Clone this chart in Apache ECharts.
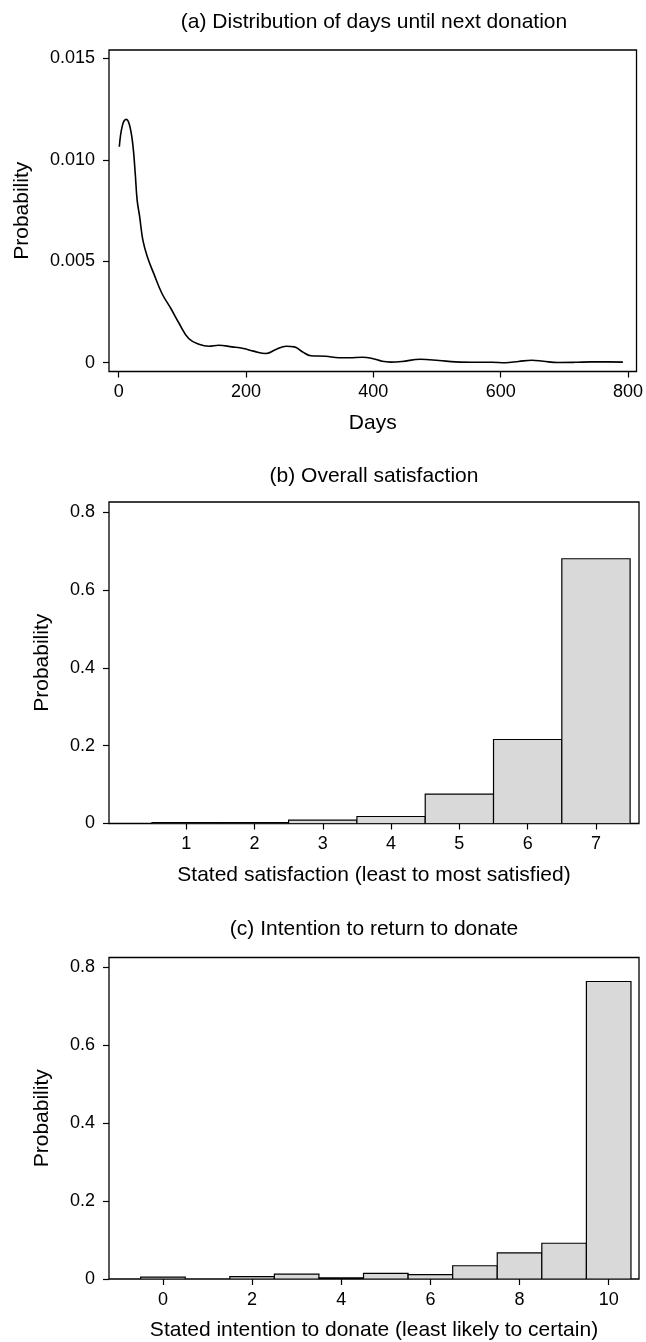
<!DOCTYPE html>
<html>
<head>
<meta charset="utf-8">
<script src="https://cdn.jsdelivr.net/npm/echarts@6/dist/echarts.min.js"></script>
<style>
html,body{margin:0;padding:0;background:#fff;}
#chart{width:646px;height:1342px;}
</style>
</head>
<body>
<div id="chart"></div>
<script>
// ---- Panel (a): kernel density of days until next donation ----
const daysX = [1, 6, 12, 17, 22, 26, 29, 33, 38, 45, 55, 68, 82, 95, 110, 126, 142, 157, 178, 196,
  212, 231, 247, 263, 276, 289, 302, 325, 346, 362, 383, 398, 414, 427, 445, 474, 503, 529, 565, 586,
  607, 628, 649, 667, 690, 717, 743, 769, 792];
const densityY = [0.01064, 0.01171, 0.01199, 0.01171, 0.01081, 0.00933, 0.00801, 0.00719, 0.00604, 0.00522,
  0.00440, 0.00341, 0.00267, 0.00193, 0.00119, 0.00091, 0.00081, 0.00086, 0.00078, 0.00070,
  0.00057, 0.00045, 0.00065, 0.00081, 0.00078, 0.00053, 0.00034, 0.00032, 0.00024, 0.00024,
  0.00027, 0.00021, 0.00007, 0.00003, 0.00006, 0.00017, 0.00011, 0.00004, 0.00002, 0.00002,
  0.00000, 0.00006, 0.00012, 0.00007, 0.00001, 0.00002, 0.00004, 0.00004, 0.00003];
const daysTicks = [0, 200, 400, 600, 800];
const densityTicks = [0, 0.005, 0.010, 0.015];

// ---- Panel (b): overall satisfaction ----
const satCategories = [1, 2, 3, 4, 5, 6, 7];
const satProb = [0.002, 0.002, 0.0085, 0.018, 0.0756, 0.2157, 0.680];
const satTicks = [1, 2, 3, 4, 5, 6, 7];

// ---- Panel (c): intention to return to donate ----
const intCategories = [0, 1, 2, 3, 4, 5, 6, 7, 8, 9, 10];
const intProb = [0.005, 0, 0.006, 0.0126, 0.003, 0.0144, 0.011, 0.034, 0.067, 0.0918, 0.764];
const intTicks = [0, 2, 4, 6, 8, 10];

const probTicks = [0, 0.2, 0.4, 0.6, 0.8];

const titles = ['(a) Distribution of days until next donation', '(b) Overall satisfaction', '(c) Intention to return to donate'];
const xNames = ['Days', 'Stated satisfaction (least to most satisfied)', 'Stated intention to donate (least likely to certain)'];
const yName = 'Probability';

const FONT = '"Liberation Sans", Arial, Helvetica, sans-serif';
const chart = echarts.init(document.getElementById('chart'), null, {renderer: 'canvas'});

function xAxisCfg(idx, min, max, ticks, fmt) {
  return {
    gridIndex: idx, type: 'value', min: min, max: max,
    axisLine: {show: false, onZero: false},
    axisTick: {show: true, length: 6, customValues: ticks, lineStyle: {color: '#000', width: 1.2}},
    axisLabel: {customValues: ticks, color: '#000', fontSize: 18, fontFamily: FONT, margin: 12, formatter: fmt},
    splitLine: {show: false},
    name: xNames[idx], nameLocation: 'middle', nameGap: 41,
    nameTextStyle: {color: '#000', fontSize: 21, fontFamily: FONT}
  };
}
function yAxisCfg(idx, min, max, ticks, fmt, gap) {
  return {
    gridIndex: idx, type: 'value', min: min, max: max,
    axisLine: {show: false, onZero: false},
    axisTick: {show: true, length: 6, customValues: ticks, lineStyle: {color: '#000', width: 1.2}},
    axisLabel: {customValues: ticks, color: '#000', fontSize: 18, fontFamily: FONT, margin: 14, formatter: fmt},
    splitLine: {show: false},
    name: yName, nameLocation: 'middle', nameRotate: 90, nameGap: gap,
    nameTextStyle: {color: '#000', fontSize: 21, fontFamily: FONT}
  };
}
const fmtDensity = v => (v === 0 ? '0' : v.toFixed(3));
const fmtProb = v => (v === 0 ? '0' : v.toFixed(1));
const fmtInt = v => String(Math.round(v));

function histRender(params, api) {
  const x = api.value(0), y = api.value(1);
  if (!(y > 0)) return null;
  const p0 = api.coord([x - 0.5, y]);
  const p1 = api.coord([x + 0.5, 0]);
  return {
    type: 'rect',
    shape: {x: p0[0], y: p0[1], width: p1[0] - p0[0], height: p1[1] - p0[1]},
    style: {fill: '#d9d9d9', stroke: '#000', lineWidth: 1.2}
  };
}

const gridBase = {show: true, left: 109, right: 7, borderColor: '#000', borderWidth: 1.3, backgroundColor: 'transparent'};

const option = {
  backgroundColor: '#fff',
  animation: false,
  title: titles.map((t, i) => ({
    text: t, left: 374, textAlign: 'center', top: [12, 466, 919][i], padding: 0,
    textStyle: {color: '#000', fontSize: 21, fontWeight: 'normal', fontFamily: FONT}
  })),
  grid: [
    Object.assign({}, gridBase, {top: 50, height: 321.5}),
    Object.assign({}, gridBase, {top: 502, height: 321.5}),
    Object.assign({}, gridBase, {top: 957.5, height: 322})
  ],
  xAxis: [
    xAxisCfg(0, -15.2, 813.4, daysTicks, fmtInt),
    xAxisCfg(1, -0.13, 7.63, satTicks, fmtInt),
    xAxisCfg(2, -1.21, 10.68, intTicks, fmtInt)
  ],
  yAxis: [
    yAxisCfg(0, -0.000434, 0.01541, densityTicks, fmtDensity, 76),
    yAxisCfg(1, 0, 0.8257, probTicks, fmtProb, 56),
    yAxisCfg(2, 0, 0.8257, probTicks, fmtProb, 56)
  ],
  series: [
    {
      type: 'line', xAxisIndex: 0, yAxisIndex: 0,
      data: daysX.map((d, i) => [d, densityY[i]]),
      smooth: 0.4, showSymbol: false, symbol: 'none',
      lineStyle: {color: '#000', width: 1.6}
    },
    {
      type: 'custom', xAxisIndex: 1, yAxisIndex: 1, clip: true,
      data: satCategories.map((c, i) => [c, satProb[i]]),
      renderItem: histRender
    },
    {
      type: 'custom', xAxisIndex: 2, yAxisIndex: 2, clip: true,
      data: intCategories.map((c, i) => [c, intProb[i]]),
      renderItem: histRender
    }
  ]
};
chart.setOption(option);
</script>
</body>
</html>
